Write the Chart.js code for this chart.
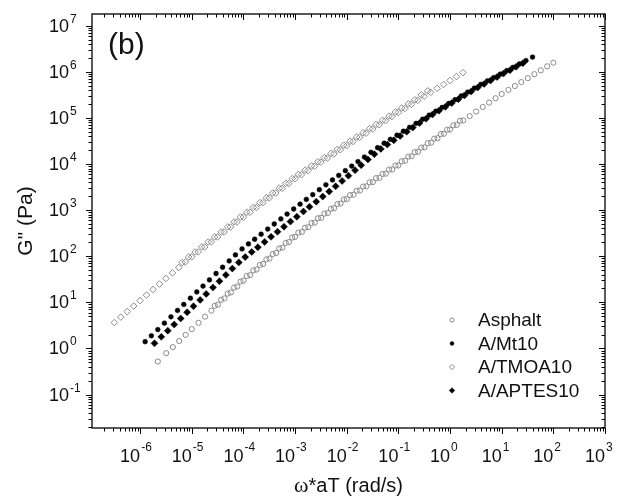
<!DOCTYPE html>
<html>
<head>
<meta charset="utf-8">
<script src="https://cdn.jsdelivr.net/npm/chart.js@4/dist/chart.umd.min.js"></script>
<style>
  body { margin: 0; background: #fff; }
  canvas { display: block; }
</style>
</head>
<body>
<canvas id="myChart" width="619" height="501"></canvas>
<script>
// values (omega*aT in rad/s, G'' in Pa)
const asphaltX = [2.2e-6, 3.2e-6, 4.3e-6, 5.7e-6, 7.6e-6,
  1e-5, 1.35e-5, 1.8e-5, 2.4e-5, 3.2e-5, 4.3e-5, 5.7e-5, 7.6e-5,
  1e-4, 1.35e-4, 1.8e-4, 2.4e-4, 3.2e-4, 4.3e-4, 5.7e-4, 7.6e-4,
  1e-3, 1.35e-3, 1.8e-3, 2.4e-3, 3.2e-3, 4.3e-3, 5.7e-3, 7.6e-3,
  1e-2, 1.35e-2, 1.8e-2, 2.4e-2, 3.2e-2, 4.3e-2, 5.7e-2, 7.6e-2,
  0.1, 0.135, 0.18, 0.24, 0.32, 0.43, 0.57, 0.76,
  1, 1.35, 1.8, 2.4, 3.2, 4.3, 5.7, 7.6,
  10, 13.5, 18, 24, 32, 43, 57, 76, 100,
  // overlapping sweeps
  2.78e-5, 3.7e-5, 4.95e-5, 6.6e-5, 8.8e-5,
  1.16e-4, 1.56e-4, 2.08e-4, 2.78e-4, 3.7e-4, 4.95e-4, 6.6e-4, 8.8e-4,
  1.16e-3, 1.56e-3, 2.08e-3, 2.78e-3, 3.7e-3, 4.95e-3, 6.6e-3, 8.8e-3,
  1.16e-2, 1.56e-2, 2.08e-2, 2.78e-2, 3.7e-2, 4.95e-2, 6.6e-2, 8.8e-2,
  0.116, 0.156, 0.208, 0.278, 0.37, 0.495, 0.66, 0.88, 1.16, 1.56];
const asphaltY = [0.52, 0.79, 1.07, 1.45, 1.97,
  2.63, 3.6, 4.9, 6.6, 8.9, 12.2, 16.4, 22,
  29.5, 39, 51.5, 68, 89, 118, 154, 203,
  263, 336, 427, 537, 682, 869, 1100, 1390,
  1740, 2160, 2670, 3290, 4060, 5040, 6190, 7640,
  9330, 11800, 14800, 18500, 23100, 29100, 36300, 45400,
  56200, 70800, 88300, 110000, 138000, 173000, 215000, 268000,
  331000, 406000, 493000, 600000, 730000, 891000, 1080000, 1320000, 1580000,
  8.43, 11.4, 15.5, 20.9, 28.2,
  37.3, 49.3, 64.9, 85.5, 112, 148, 195, 255,
  326, 415, 526, 667, 843, 1070, 1360, 1710,
  2120, 2640, 3250, 4020, 4950, 6120, 7570, 9310,
  11500, 14500, 18100, 22700, 28400, 35600, 44700, 55700, 69200, 86900];

const mt10X = [1.25e-6, 1.65e-6, 2.2e-6, 2.95e-6, 3.95e-6, 5.3e-6, 7.0e-6, 9.4e-6,
  1.25e-5, 1.65e-5, 2.2e-5, 2.95e-5, 3.95e-5, 5.3e-5, 7.0e-5, 9.4e-5,
  1.25e-4, 1.65e-4, 2.2e-4, 2.95e-4, 3.95e-4, 5.3e-4, 7.0e-4, 9.4e-4,
  1.25e-3, 1.65e-3, 2.2e-3, 2.95e-3, 3.95e-3, 5.3e-3, 7.0e-3, 9.4e-3,
  1.25e-2, 1.65e-2, 2.2e-2, 2.95e-2, 3.95e-2, 5.3e-2, 7.0e-2, 9.4e-2,
  0.125, 0.165, 0.22, 0.295, 0.395, 0.53, 0.70, 0.94,
  1.25, 1.65, 2.2, 2.95, 3.95, 5.3, 7.0, 9.4,
  12.5, 16.5, 22, 29.5, 39.5];
const mt10Y = [1.40, 1.88, 2.57, 3.54, 4.86, 6.67, 9.0, 12.3,
  16.8, 22.5, 30.7, 42.2, 57.7, 79.1, 107, 144,
  185, 234, 301, 389, 501, 646, 824, 1060,
  1350, 1710, 2170, 2780, 3550, 4520, 5660, 7180,
  9020, 11300, 14200, 18000, 22700, 28300, 34400, 42200,
  51500, 62500, 76400, 93800, 115000, 140000, 169000, 206000,
  249000, 300000, 363000, 443000, 537000, 638000, 752000, 895000,
  1060000, 1250000, 1480000, 1760000, 2090000];

const tmoaX = [3.16e-7, 4.22e-7, 5.62e-7, 7.5e-7,
  1e-6, 1.33e-6, 1.78e-6, 2.37e-6, 3.16e-6, 4.22e-6, 5.62e-6, 7.5e-6,
  1e-5, 1.33e-5, 1.78e-5, 2.37e-5, 3.16e-5, 4.22e-5, 5.62e-5, 7.5e-5,
  1e-4, 1.33e-4, 1.78e-4, 2.37e-4, 3.16e-4, 4.22e-4, 5.62e-4, 7.5e-4,
  1e-3, 1.33e-3, 1.78e-3, 2.37e-3, 3.16e-3, 4.22e-3, 5.62e-3, 7.5e-3,
  1e-2, 1.33e-2, 1.78e-2, 2.37e-2, 3.16e-2, 4.22e-2, 5.62e-2, 7.5e-2,
  0.1, 0.133, 0.178, 0.237, 0.316, 0.422, 0.562, 0.75,
  1, 1.33, 1.78,
  // overlapping sweeps
  6.5e-6, 8.7e-6,
  1.16e-5, 1.56e-5, 2.08e-5, 2.78e-5, 3.7e-5, 4.95e-5, 6.6e-5, 8.8e-5,
  1.16e-4, 1.56e-4, 2.08e-4, 2.78e-4, 3.7e-4, 4.95e-4, 6.6e-4, 8.8e-4,
  1.16e-3, 1.56e-3, 2.08e-3, 2.78e-3, 3.7e-3, 4.95e-3, 6.6e-3, 8.8e-3,
  1.16e-2, 1.56e-2, 2.08e-2, 2.78e-2, 3.7e-2, 4.95e-2, 6.6e-2, 8.8e-2,
  0.116, 0.156, 0.208, 0.278, 0.37];
const tmoaY = [3.64, 4.80, 6.31, 8.32,
  10.9, 14.4, 19.0, 25.0, 32.9, 43.4, 57.0, 75.2,
  96.9, 124, 159, 204, 262, 336, 431, 552,
  708, 899, 1140, 1450, 1840, 2340, 2970, 3770,
  4790, 5890, 7240, 8910, 11000, 13500, 16600, 20400,
  25100, 30900, 38000, 46800, 57500, 70800, 87100, 107000,
  132000, 161000, 197000, 241000, 295000, 360000, 438000, 533000,
  649000, 791000, 962000,
  73.1, 96.6,
  124, 160, 205, 263, 337, 434, 556, 711,
  899, 1150, 1460, 1860, 2350, 3000, 3810, 4830,
  5980, 7400, 9100, 11200, 13800, 17000, 20900, 25700,
  31400, 38800, 47800, 58900, 72300, 89100, 110000, 135000,
  164000, 202000, 247000, 317000, 387000];

const aptesX = [1.9e-6, 2.57e-6, 3.43e-6, 4.57e-6, 6.1e-6, 8.13e-6,
  1.08e-5, 1.45e-5, 1.9e-5, 2.57e-5, 3.43e-5, 4.57e-5, 6.1e-5, 8.13e-5,
  1.08e-4, 1.45e-4, 1.9e-4, 2.57e-4, 3.43e-4, 4.57e-4, 6.1e-4, 8.13e-4,
  1.08e-3, 1.45e-3, 1.9e-3, 2.57e-3, 3.43e-3, 4.57e-3, 6.1e-3, 8.13e-3,
  1.08e-2, 1.45e-2, 1.9e-2, 2.57e-2, 3.43e-2, 4.57e-2, 6.1e-2, 8.13e-2,
  0.108, 0.145, 0.19, 0.257, 0.343, 0.457, 0.61, 0.813,
  1.08, 1.45, 1.9, 2.57, 3.43, 4.57, 6.1, 8.13,
  10.8, 14.5, 19, 25.7];
const aptesY = [1.29, 1.79, 2.43, 3.30, 4.48, 6.08,
  8.24, 11.3, 15.2, 21.1, 28.8, 39.4, 54.0, 73.6,
  95.9, 124, 157, 205, 264, 340, 437, 564,
  722, 933, 1180, 1530, 1970, 2530, 3300, 4310,
  5600, 7360, 9480, 12600, 16400, 21300, 26400, 32700,
  40500, 50500, 61900, 77600, 96400, 119000, 144000, 174000,
  210000, 256000, 308000, 377000, 457000, 547000, 650000, 773000,
  916000, 1090000, 1290000, 1540000];

const seriesNames = ['Asphalt', 'A/Mt10', 'A/TMOA10', 'A/APTES10'];
const xDecades = [-6, -5, -4, -3, -2, -1, 0, 1, 2, 3];
const yDecades = [-1, 0, 1, 2, 3, 4, 5, 6, 7];
const minorSteps = [2, 3, 4, 5, 6, 7, 8, 9];

const FONT = '"Liberation Sans", Arial, sans-serif';
const grey = '#8a8a8a';
const ink = '#111';

function pts(xs, ys) {
  return xs.map((v, i) => ({x: v, y: ys[i]}));
}

function marker(ctx, style, x, y, r, fill, stroke, lw) {
  ctx.beginPath();
  if (style === 'rectRot') {
    ctx.moveTo(x, y - r); ctx.lineTo(x + r, y); ctx.lineTo(x, y + r); ctx.lineTo(x - r, y); ctx.closePath();
  } else {
    ctx.arc(x, y, r, 0, Math.PI * 2);
  }
  if (fill !== 'transparent') { ctx.fillStyle = fill; ctx.fill(); }
  ctx.lineWidth = lw; ctx.strokeStyle = stroke; ctx.stroke();
}

const originAxes = {
  id: 'originAxes',
  afterDatasetsDraw(chart) {
    const {ctx, chartArea: a, scales: {x, y}} = chart;
    ctx.save();
    ctx.strokeStyle = '#000';
    ctx.lineWidth = 1.3;
    ctx.strokeRect(a.left, a.top, a.right - a.left, a.bottom - a.top);

    function seg(x1, y1, x2, y2) {
      ctx.beginPath(); ctx.moveTo(x1, y1); ctx.lineTo(x2, y2); ctx.stroke();
    }
    ctx.lineWidth = 1;
    // x ticks: bottom outward, top inward
    for (let e = -7; e <= 3; e++) {
      [1].concat(minorSteps).forEach(m => {
        const v = m * Math.pow(10, e);
        if (v < x.min * 0.999 || v > x.max * 1.001) return;
        const px = Math.round(x.getPixelForValue(v)) + 0.5;
        const len = m === 1 ? 6 : 3.5;
        seg(px, a.bottom, px, a.bottom + len);
        seg(px, a.top, px, a.top + len);
      });
    }
    // y ticks: left outward, right inward
    for (let e = -2; e <= 7; e++) {
      [1].concat(minorSteps).forEach(m => {
        const v = m * Math.pow(10, e);
        if (v < y.min * 0.999 || v > y.max * 1.001) return;
        const py = Math.round(y.getPixelForValue(v)) + 0.5;
        const len = m === 1 ? 6 : 3.5;
        seg(a.left - len, py, a.left, py);
        seg(a.right - len, py, a.right, py);
      });
    }

    // tick labels
    ctx.fillStyle = ink;
    xDecades.forEach(e => {
      const px = x.getPixelForValue(Math.pow(10, e));
      ctx.font = '18px ' + FONT;
      ctx.textAlign = 'right'; ctx.textBaseline = 'alphabetic';
      ctx.fillText('10', px, 462);
      ctx.font = '12px ' + FONT;
      ctx.textAlign = 'left';
      ctx.fillText(String(e), px + 1, 451);
    });
    yDecades.forEach(e => {
      const py = y.getPixelForValue(Math.pow(10, e));
      ctx.font = '18px ' + FONT;
      ctx.textAlign = 'right'; ctx.textBaseline = 'middle';
      ctx.fillText('10', a.left - 23, py + 1);
      ctx.font = '12px ' + FONT;
      ctx.textAlign = 'left'; ctx.textBaseline = 'alphabetic';
      ctx.fillText(String(e), a.left - 22, py - 3);
    });

    // axis titles
    ctx.textBaseline = 'middle';
    const cx = (a.left + a.right) / 2;
    const rest = '*aT (rad/s)';
    const omFont = '22px "Liberation Serif", "Times New Roman", serif';
    const txtFont = '20px ' + FONT;
    ctx.font = omFont;
    const wOm = ctx.measureText('\u03c9').width;
    ctx.font = txtFont;
    const wRest = ctx.measureText(rest).width;
    const x0 = cx - (wOm + wRest) / 2;
    ctx.textAlign = 'left';
    ctx.font = omFont;
    ctx.fillText('\u03c9', x0, 486);
    ctx.font = txtFont;
    ctx.fillText(rest, x0 + wOm, 486);

    ctx.save();
    ctx.translate(26, (a.top + a.bottom) / 2);
    ctx.rotate(-Math.PI / 2);
    ctx.textAlign = 'center';
    ctx.font = '21px ' + FONT;
    ctx.fillText('G" (Pa)', 0, 0);
    ctx.restore();

    // panel tag
    ctx.font = '30px ' + FONT;
    ctx.textAlign = 'left';
    ctx.fillText('(b)', 108, 46);

    // legend
    chart.data.datasets.forEach((ds, i) => {
      const ly = 320 + i * 23.5;
      marker(ctx, ds.pointStyle, 452, ly, ds.pointRadius * 0.8,
        ds.pointBackgroundColor, ds.pointBorderColor, ds.pointBorderWidth);
      ctx.fillStyle = ink;
      ctx.font = '19px ' + FONT;
      ctx.textAlign = 'left'; ctx.textBaseline = 'middle';
      ctx.fillText(ds.label, 478, ly + 1);
    });
    ctx.restore();
  }
};

const config = {
  type: 'scatter',
  data: {
    datasets: [{
      label: seriesNames[0],
      data: pts(asphaltX, asphaltY),
      pointStyle: 'circle',
      pointRadius: 2.6,
      pointBorderWidth: 1,
      pointBackgroundColor: 'transparent',
      pointBorderColor: grey,
    }, {
      label: seriesNames[1],
      data: pts(mt10X, mt10Y),
      pointStyle: 'circle',
      pointRadius: 2.4,
      pointBorderWidth: 0.5,
      pointBackgroundColor: '#000',
      pointBorderColor: '#000',
    }, {
      label: seriesNames[2],
      data: pts(tmoaX, tmoaY),
      pointStyle: 'rectRot',
      pointRadius: 3.3,
      pointBorderWidth: 1,
      pointBackgroundColor: 'transparent',
      pointBorderColor: grey,
    }, {
      label: seriesNames[3],
      data: pts(aptesX, aptesY),
      pointStyle: 'rectRot',
      pointRadius: 3.5,
      pointBorderWidth: 0.5,
      pointBackgroundColor: '#000',
      pointBorderColor: '#000',
    }]
  },
  options: {
    responsive: false,
    animation: false,
    layout: { padding: { left: 92, right: 14, top: 14, bottom: 73 } },
    plugins: { legend: { display: false }, tooltip: { enabled: false } },
    scales: {
      x: { type: 'logarithmic', display: false, min: 1.17e-7, max: 1000 },
      y: { type: 'logarithmic', display: false, min: 0.0188, max: 1.8e7 }
    }
  },
  plugins: [originAxes]
};

const ctx = document.getElementById('myChart').getContext('2d');
const grafica = new Chart(ctx, config);
</script>
</body>
</html>
